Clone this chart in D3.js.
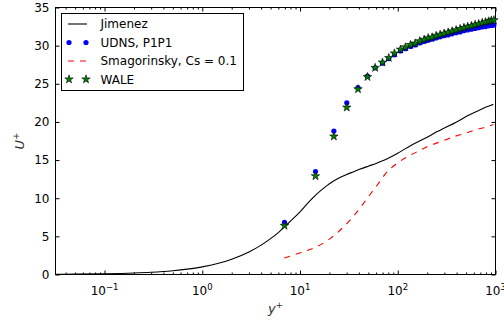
<!DOCTYPE html>
<html>
<head>
<meta charset="utf-8">
<script src="https://cdn.jsdelivr.net/npm/d3@7"></script>
<style>
  body { margin: 0; background: #fff; }
  text { font-family: "DejaVu Sans", sans-serif; }
</style>
</head>
<body>
<div id="chart"></div>
<script>
// Jimenez reference profile (solid black)
const jimenezYPlus = [0.0315, 0.05, 0.1, 0.2, 0.3, 0.5, 0.7, 1, 1.5, 2, 3, 4, 5, 6, 7, 8, 10, 12, 15, 18, 20, 25, 30, 35, 40, 50, 60, 70, 80, 100, 120, 150, 200, 250, 300, 400, 500, 600, 700, 800, 900, 950];
const jimenezU = [0.03, 0.05, 0.1, 0.2, 0.3, 0.5, 0.7, 1.0, 1.5, 2.0, 2.95, 3.85, 4.7, 5.5, 6.3, 7.0, 8.2, 9.35, 10.6, 11.45, 11.9, 12.65, 13.1, 13.45, 13.75, 14.2, 14.55, 14.9, 15.25, 15.9, 16.5, 17.2, 18.0, 18.7, 19.2, 20.0, 20.7, 21.2, 21.6, 21.95, 22.2, 22.3];

// LES points (UDNS and WALE share the same y+ locations)
const lesYPlus = [6.94, 14.4, 22.2, 30.1, 39.2, 49.0, 58.7, 69.8, 80.9, 92.5, 106.6, 119.8, 134.9, 150.6, 167.9, 186.2, 204.6, 224.7, 247.0, 271.4, 298.2, 327.7, 360.0, 395.5, 434.5, 475.3, 519.6, 567.0, 618.6, 673.2, 731.2, 792.0, 854.3, 908.0, 962.9];
const udnsU = [6.85, 13.5, 18.8, 22.5, 24.5, 26.0, 27.1, 27.7, 28.3, 28.8, 29.3, 29.6, 29.9, 30.1, 30.35, 30.55, 30.7, 30.85, 31.0, 31.15, 31.3, 31.4, 31.55, 31.7, 31.8, 31.95, 32.05, 32.15, 32.25, 32.35, 32.45, 32.5, 32.6, 32.65, 32.7];
const waleU = [6.4, 12.9, 18.1, 21.9, 24.3, 25.9, 27.1, 27.8, 28.4, 29.0, 29.5, 29.8, 30.1, 30.3, 30.6, 30.8, 31.0, 31.1, 31.3, 31.45, 31.6, 31.75, 31.9, 32.05, 32.2, 32.35, 32.5, 32.6, 32.75, 32.85, 33.0, 33.1, 33.2, 33.3, 33.35];

// Smagorinsky, Cs = 0.1 (red dashed)
const smagYPlus = [6.9, 10.1, 14.4, 20.5, 28, 38.5, 48.7, 61.5, 78, 98.6, 135, 171, 200, 280, 374, 500, 600, 800, 950];
const smagU = [2.15, 2.86, 3.56, 4.74, 6.27, 8.23, 9.99, 11.7, 13.47, 14.57, 15.66, 16.3, 16.75, 17.45, 18.06, 18.55, 18.9, 19.35, 19.65];

const yTickValues = [0, 5, 10, 15, 20, 25, 30, 35];
const xTickExponents = [-1, 0, 1, 2, 3];
const legendLabels = ["Jimenez", "UDNS, P1P1", "Smagorinsky, Cs = 0.1", "WALE"];

const width = 504;
const height = 324;
const margin = { top: 7.5, right: 8.5, bottom: 49.5, left: 55.5 };

const svg = d3
  .select("#chart")
  .append("svg")
  .attr("width", width)
  .attr("height", height);

const x = d3
  .scaleLog()
  .domain([0.0315, 1000])
  .range([margin.left, width - margin.right]);

const y = d3
  .scaleLinear()
  .domain([0, 35])
  .range([height - margin.bottom, margin.top]);

const x0 = margin.left, x1 = width - margin.right;
const y0 = height - margin.bottom, y1 = margin.top;

// minor ticks 2..9 in each decade
const minorX = [];
[0.01, 0.1, 1, 10, 100].forEach((d) => {
  for (let k = 2; k <= 9; k++) {
    const v = d * k;
    if (v >= 0.0315 && v < 1000) minorX.push(v);
  }
});
const majorX = xTickExponents.map((e) => Math.pow(10, e));

function tickGroup(axis, ty) {
  const g = svg.append("g").attr("transform", `translate(0,${ty})`).call(axis);
  g.select(".domain").remove();
  g.selectAll("line").attr("stroke", "#000");
  return g;
}
function tickGroupY(axis, tx) {
  const g = svg.append("g").attr("transform", `translate(${tx},0)`).call(axis);
  g.select(".domain").remove();
  g.selectAll("line").attr("stroke", "#000");
  return g;
}

// bottom + top ticks pointing inward
tickGroup(d3.axisBottom(x).tickValues(majorX).tickSizeInner(-4).tickSizeOuter(0).tickFormat(""), y0);
tickGroup(d3.axisBottom(x).tickValues(minorX).tickSizeInner(-2).tickSizeOuter(0).tickFormat(""), y0);
tickGroup(d3.axisTop(x).tickValues(majorX).tickSizeInner(-4).tickSizeOuter(0).tickFormat(""), y1);
tickGroup(d3.axisTop(x).tickValues(minorX).tickSizeInner(-2).tickSizeOuter(0).tickFormat(""), y1);

// left + right ticks
const leftAxis = tickGroupY(
  d3.axisLeft(y).tickValues(yTickValues).tickSizeInner(-4).tickSizeOuter(0).tickPadding(6),
  x0,
);
leftAxis
  .selectAll("text")
  .attr("font-family", "DejaVu Sans")
  .attr("font-size", 12)
  .attr("fill", "#000");
tickGroupY(d3.axisRight(y).tickValues(yTickValues).tickSizeInner(-4).tickSizeOuter(0).tickFormat(""), x1);

// x tick labels as 10^n
const xLabels = svg.append("g").attr("font-size", 12).attr("fill", "#000");
xTickExponents.forEach((e) => {
  const t = xLabels
    .append("text")
    .attr("x", x(Math.pow(10, e)))
    .attr("y", 295)
    .attr("text-anchor", "middle");
  t.append("tspan").text("10");
  t.append("tspan")
    .attr("dy", -5)
    .attr("font-size", 8.5)
    .text(e < 0 ? "\u2212" + Math.abs(e) : String(e));
});

// frame
svg
  .append("rect")
  .attr("x", x0)
  .attr("y", y1)
  .attr("width", x1 - x0)
  .attr("height", y0 - y1)
  .attr("fill", "none")
  .attr("stroke", "#000")
  .attr("stroke-width", 1);

// axis labels
const yLab = svg
  .append("text")
  .attr("transform", `translate(24,${(y0 + y1) / 2}) rotate(-90)`)
  .attr("text-anchor", "middle")
  .attr("font-family", "DejaVu Serif")
  .attr("font-style", "italic")
  .attr("font-size", 13)
  .attr("fill", "#333");
yLab.append("tspan").text("U");
yLab.append("tspan").attr("dy", -5).attr("font-size", 9).attr("font-style", "normal").text("+");

const xLab = svg
  .append("text")
  .attr("x", (x0 + x1) / 2)
  .attr("y", 313)
  .attr("text-anchor", "middle")
  .attr("font-family", "DejaVu Serif")
  .attr("font-style", "italic")
  .attr("font-size", 13)
  .attr("fill", "#333");
xLab.append("tspan").text("y");
xLab.append("tspan").attr("dy", -5).attr("font-size", 9).attr("font-style", "normal").text("+");

// curves
const line = d3
  .line()
  .x((d) => x(d[0]))
  .y((d) => y(d[1]))
  .curve(d3.curveMonotoneX);

svg
  .append("path")
  .datum(jimenezYPlus.map((v, i) => [v, jimenezU[i]]))
  .attr("d", line)
  .attr("fill", "none")
  .attr("stroke", "#000")
  .attr("stroke-width", 1.1);

svg
  .append("path")
  .datum(smagYPlus.map((v, i) => [v, smagU[i]]))
  .attr("d", line)
  .attr("fill", "none")
  .attr("stroke", "#ff0000")
  .attr("stroke-width", 1.1)
  .attr("stroke-dasharray", "6,6");

// markers
const star = d3.symbol().type(d3.symbolStar).size(22);

svg
  .append("g")
  .selectAll("circle")
  .data(lesYPlus.map((v, i) => [v, udnsU[i]]))
  .join("circle")
  .attr("cx", (d) => x(d[0]))
  .attr("cy", (d) => y(d[1]))
  .attr("r", 2.6)
  .attr("fill", "#0000ff");

svg
  .append("g")
  .selectAll("path")
  .data(lesYPlus.map((v, i) => [v, waleU[i]]))
  .join("path")
  .attr("d", star)
  .attr("transform", (d) => `translate(${x(d[0])},${y(d[1])})`)
  .attr("fill", "#008000")
  .attr("stroke", "#000")
  .attr("stroke-width", 0.6);

// legend
const legend = svg.append("g");
legend
  .append("rect")
  .attr("x", 61.5)
  .attr("y", 13.5)
  .attr("width", 182)
  .attr("height", 77)
  .attr("fill", "#fff")
  .attr("stroke", "#000");

const rowY = [24, 42.5, 61, 79.3];
legendLabels.forEach((label, i) => {
  legend
    .append("text")
    .attr("x", 100.5)
    .attr("y", rowY[i])
    .attr("dy", "0.35em")
    .attr("font-size", 12)
    .attr("fill", "#000")
    .text(label);
});

legend
  .append("line")
  .attr("x1", 68).attr("x2", 87)
  .attr("y1", rowY[0]).attr("y2", rowY[0])
  .attr("stroke", "#000")
  .attr("stroke-width", 1.1);

[69, 86].forEach((cx) => {
  legend
    .append("circle")
    .attr("cx", cx)
    .attr("cy", rowY[1])
    .attr("r", 2.6)
    .attr("fill", "#0000ff");
  legend
    .append("path")
    .attr("d", star)
    .attr("transform", `translate(${cx},${rowY[3]})`)
    .attr("fill", "#008000")
    .attr("stroke", "#000")
    .attr("stroke-width", 0.6);
});

legend
  .append("line")
  .attr("x1", 68).attr("x2", 87)
  .attr("y1", rowY[2]).attr("y2", rowY[2])
  .attr("stroke", "#ff0000")
  .attr("stroke-width", 1.1)
  .attr("stroke-dasharray", "6,6");
</script>
</body>
</html>
